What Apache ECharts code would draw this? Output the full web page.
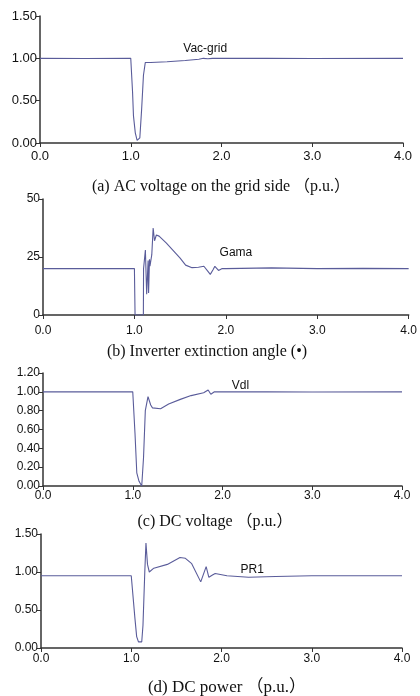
<!DOCTYPE html>
<html>
<head>
<meta charset="utf-8">
<script src="https://cdn.jsdelivr.net/npm/echarts@6/dist/echarts.min.js"></script>
<style>
  html, body { margin: 0; padding: 0; background: #fff; }
  #chart { width: 420px; height: 696px; }
</style>
</head>
<body>
<div id="chart"></div>
<script>
// time in s
const xTicks = ['0.0', '1.0', '2.0', '3.0', '4.0'];

const vacGrid = [
  [0, 1.0], [0.5, 0.998], [1.0, 1.0], [1.01, 0.99], [1.02, 0.6], [1.03, 0.32], [1.05, 0.12],
  [1.07, 0.03], [1.08, 0.015], [1.1, 0.06], [1.12, 0.4], [1.14, 0.8], [1.16, 0.95], [1.18, 0.96],
  [1.22, 0.95], [1.4, 0.96], [1.6, 0.975], [1.75, 0.99], [1.8, 1.0], [1.85, 0.995], [1.9, 1.0],
  [2.5, 1.0], [3.0, 0.998], [4.0, 1.0]
];

const gama = [
  [0, 20], [0.5, 20], [1.0, 20], [1.006, 20], [1.007, 0], [1.098, 0], [1.1, 20], [1.12, 28],
  [1.134, 9], [1.15, 23.5], [1.155, 9.5], [1.165, 24], [1.17, 21], [1.19, 26], [1.205, 37.5],
  [1.22, 32], [1.24, 34.5], [1.27, 34], [1.35, 31], [1.42, 28], [1.5, 24.5], [1.56, 21.5],
  [1.63, 20.4], [1.7, 20.6], [1.76, 21], [1.8, 19], [1.83, 17.5], [1.86, 19.5], [1.88, 21],
  [1.92, 19.2], [1.96, 20], [2.0, 20], [2.5, 20.3], [3.0, 20], [3.5, 20.1], [4.0, 20]
];

const vdl = [
  [0, 1.0], [0.5, 1.0], [1.0, 1.0], [1.01, 0.98], [1.025, 0.56], [1.045, 0.14], [1.07, 0.05],
  [1.1, 0.0], [1.12, 0.3], [1.14, 0.8], [1.17, 0.95], [1.2, 0.86], [1.22, 0.83], [1.31, 0.82],
  [1.4, 0.87], [1.53, 0.92], [1.65, 0.96], [1.79, 0.99], [1.84, 1.02], [1.87, 0.975],
  [1.91, 1.0], [2.5, 1.0], [3.0, 0.998], [4.0, 1.0]
];

const pr1 = [
  [0, 0.95], [0.5, 0.95], [1.0, 0.95], [1.016, 0.94], [1.04, 0.4], [1.06, 0.15], [1.08, 0.08],
  [1.116, 0.08], [1.13, 0.3], [1.15, 1.0], [1.163, 1.38], [1.18, 1.1], [1.2, 1.0], [1.215, 1.0],
  [1.25, 1.05], [1.4, 1.1], [1.54, 1.19], [1.6, 1.18], [1.67, 1.11], [1.77, 0.87], [1.83, 1.07],
  [1.86, 0.93], [1.9, 0.96], [1.93, 0.98], [2.06, 0.95], [2.3, 0.93], [2.6, 0.94], [3.0, 0.95],
  [3.5, 0.95], [4.0, 0.95]
];

const seriesNames = ['Vac-grid', 'Gama', 'Vdl', 'PR1'];
const labelAt = [[1.82, 1.11], [2.11, 26.9], [2.2, 1.06], [2.34, 1.03]];
const captions = [
  '(a) AC voltage on the grid side （p.u.）',
  '(b) Inverter extinction angle (•)',
  '(c) DC voltage （p.u.）',
  '(d) DC power （p.u.）'
];

const chart = echarts.init(document.getElementById('chart'));

const grids = [
  { left: 40, right: 17, top: 16, height: 127 },
  { left: 43, right: 9, top: 199, height: 116 },
  { left: 43, right: 18, top: 373, height: 113 },
  { left: 41, right: 18, top: 534, height: 114 }
];
const yRanges = [
  { min: 0, max: 1.5, interval: 0.5, fmt: 2 },
  { min: 0, max: 50, interval: 25, fmt: 0 },
  { min: 0, max: 1.2, interval: 0.2, fmt: 2 },
  { min: 0, max: 1.5, interval: 0.5, fmt: 2 }
];
const dataSets = [vacGrid, gama, vdl, pr1];
const tickFont = [13, 12, 12, 12];
const xMargin = [7, 10, 4, 5];
const captionY = [187, 352, 522, 688];
const captionX = [221, 207, 215, 227];
const captionFont = [16, 16, 16, 17];

const sans = 'Liberation Sans, Arial, sans-serif';

chart.setOption({
  animation: false,
  grid: grids,
  xAxis: grids.map((g, i) => ({
    type: 'value',
    gridIndex: i,
    min: 0,
    max: 4,
    interval: 1,
    axisLine: { show: true, onZero: false, lineStyle: { color: '#333', width: 1.5 } },
    axisTick: { show: true, length: 4, lineStyle: { color: '#333' } },
    axisLabel: {
      margin: xMargin[i],
      color: '#111',
      fontSize: tickFont[i],
      fontFamily: sans,
      formatter: (v) => xTicks[Math.round(v)]
    },
    splitLine: { show: false }
  })),
  yAxis: yRanges.map((r, i) => ({
    type: 'value',
    gridIndex: i,
    min: r.min,
    max: r.max,
    interval: r.interval,
    axisLine: { show: true, lineStyle: { color: '#333', width: 1.5 } },
    axisTick: { show: true, length: 4, lineStyle: { color: '#333' } },
    axisLabel: {
      margin: 3,
      color: '#111',
      fontSize: tickFont[i],
      fontFamily: sans,
      formatter: (v) => v.toFixed(r.fmt)
    },
    splitLine: { show: false }
  })),
  series: dataSets.map((d, i) => ({
    type: 'line',
    name: seriesNames[i],
    xAxisIndex: i,
    yAxisIndex: i,
    data: d,
    showSymbol: false,
    lineStyle: { color: '#5a5c9a', width: 1.1 },
    markPoint: {
      symbol: 'circle',
      symbolSize: 0,
      label: {
        show: true,
        position: 'inside',
        formatter: seriesNames[i],
        color: '#111',
        fontSize: 12,
        fontFamily: sans
      },
      data: [{ coord: labelAt[i] }]
    }
  })),
  graphic: captions.map((c, i) => ({
    type: 'text',
    x: captionX[i],
    y: captionY[i],
    style: {
      text: c,
      fill: '#111',
      font: captionFont[i] + 'px "Liberation Serif", "Times New Roman", "Noto Sans CJK SC", serif',
      textAlign: 'center',
      textVerticalAlign: 'middle'
    }
  }))
});
</script>
</body>
</html>
